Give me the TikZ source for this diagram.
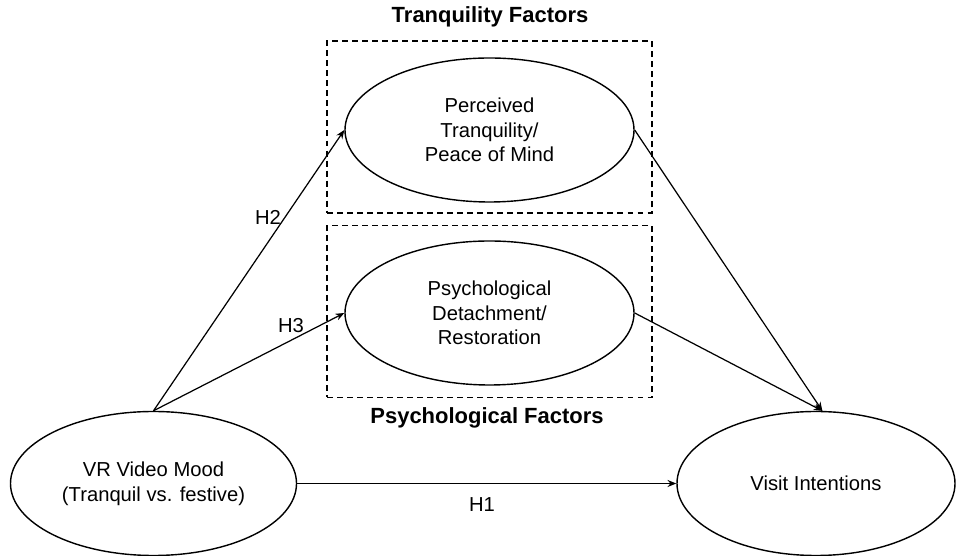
\documentclass[tikz,border=0pt]{standalone}
\usepackage{fontspec}
\setmainfont{Liberation Sans}
\usetikzlibrary{arrows.meta,shapes.geometric}

\begin{document}
\begin{tikzpicture}[
    construct/.style={draw,ellipse,line width=0.8pt,inner sep=0pt,minimum height=2.88cm,
      align=center,font=\fontsize{11.5}{14}\selectfont},
    factorbox/.style={draw,dashed,dash pattern=on 3.4pt off 2.3pt,line width=0.7pt,
      minimum width=6.5cm,minimum height=3.44cm,inner sep=0pt},
    hpath/.style={-{Stealth[length=5pt,width=4pt]},line width=0.7pt},
    hyp/.style={font=\fontsize{11.5}{14}\selectfont},
    group/.style={font=\fontsize{12.5}{15}\selectfont\bfseries}
  ]
  \useasboundingbox (0,0) rectangle (19.14,11.12);

  % factor groups
  \node[factorbox] (tbox) at (9.79,8.58) {};
  \node[factorbox] (pbox) at (9.79,4.89) {};
  \node[group] (ttitle) at (9.8,10.78) {Tranquility Factors};
  \node[group] (ptitle) at (9.74,2.76) {Psychological Factors};

  % constructs
  \node[construct,minimum width=5.72cm] (mood) at (3.07,1.45) {VR Video Mood\\(Tranquil vs. festive)};
  \node[construct,minimum width=5.56cm] (visit) at (16.32,1.45) {Visit Intentions};
  \node[construct,minimum width=5.78cm] (tranq) at (9.79,8.52) {Perceived\\Tranquility/\\Peace of Mind};
  \node[construct,minimum width=5.78cm] (detach) at (9.79,4.86) {Psychological\\Detachment/\\Restoration};

  % hypotheses
  \draw[hpath] (mood.east) -- (visit.west);
  \draw[hpath] (mood.north) -- (tranq.west);
  \draw[hpath] (mood.north) -- (detach.west);
  \draw[hpath] (tranq.east) -- (visit.85);
  \draw[hpath] (detach.east) -- (visit.85);

  \node[hyp] (h1) at (9.64,1.02) {H1};
  \node[hyp] (h2) at (5.36,6.78) {H2};
  \node[hyp] (h3) at (5.82,4.6) {H3};
\end{tikzpicture}
\end{document}
